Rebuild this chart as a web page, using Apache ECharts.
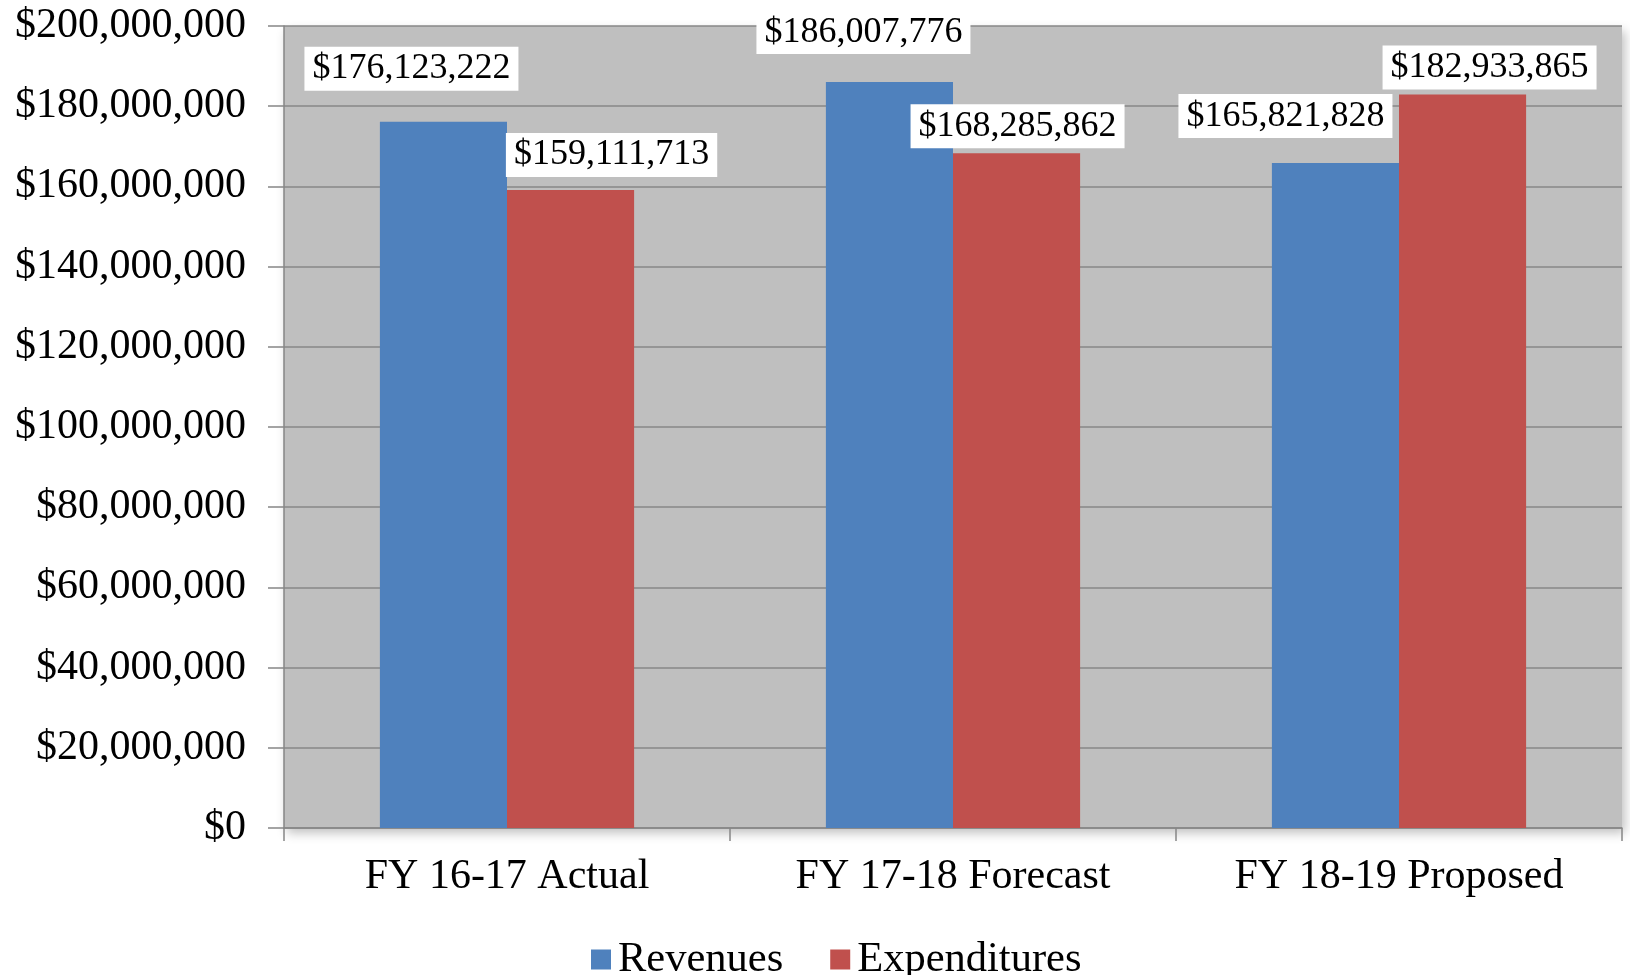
<!DOCTYPE html>
<html>
<head>
<meta charset="utf-8">
<script src="https://cdn.jsdelivr.net/npm/echarts@6/dist/echarts.min.js"></script>
<style>
  html, body { margin: 0; padding: 0; background: #fff; }
  #main { width: 1630px; height: 975px; }
</style>
</head>
<body>
<div id="main"></div>
<script>
// data
const categories = ['FY 16-17 Actual', 'FY 17-18 Forecast', 'FY 18-19 Proposed'];
const revenues = [176123222, 186007776, 165821828];
const expenditures = [159111713, 168285862, 182933865];
const yTicks = [0, 20000000, 40000000, 60000000, 80000000, 100000000, 120000000, 140000000, 160000000, 180000000, 200000000];

// label nudges, Excel moved them around to avoid overlaps
const revLabelShift = [[-32, -26], [-26, -23], [-50, -20]];
const expLabelShift = [[41, -8], [1, 0], [27, 0]];

const FONT = '"Liberation Serif", "Times New Roman", serif';

function money(v) {
  return '$' + Number(v).toLocaleString('en-US');
}

function withLabels(values, shifts) {
  return values.map((v, i) => ({ value: v, label: { offset: shifts[i] } }));
}

var myChart = echarts.init(document.getElementById('main'));

const barLabel = {
  show: true,
  position: 'top',
  distance: 5,
  formatter: p => money(p.value),
  color: '#000',
  fontFamily: FONT,
  fontSize: 36,
  lineHeight: 36,
  backgroundColor: '#fff',
  padding: [4, 8, 4, 8]
};

const option = {
  animation: false,
  textStyle: { fontFamily: FONT },
  grid: {
    left: 284,
    right: 8,
    top: 26,
    bottom: 147,
    show: true,
    backgroundColor: '#BFBFBF',
    borderWidth: 0,
    shadowColor: 'rgba(0,0,0,0.25)',
    shadowBlur: 10,
    shadowOffsetX: 3,
    shadowOffsetY: 5
  },
  legend: {
    data: ['Revenues', 'Expenditures'],
    left: 586,
    top: 933,
    icon: 'rect',
    itemWidth: 20,
    itemHeight: 20,
    itemGap: 47,
    textStyle: {
      fontFamily: FONT,
      fontSize: 42.5,
      lineHeight: 42,
      color: '#000',
      padding: [0, 0, 0, 2]
    }
  },
  xAxis: {
    type: 'category',
    data: categories,
    axisLine: { lineStyle: { color: '#868686', width: 1.5 } },
    axisTick: { show: true, length: 13, lineStyle: { color: '#868686', width: 1.5 } },
    axisLabel: {
      color: '#000',
      fontFamily: FONT,
      fontSize: 42,
      lineHeight: 42,
      margin: 28
    }
  },
  yAxis: {
    type: 'value',
    min: yTicks[0],
    max: yTicks[yTicks.length - 1],
    interval: yTicks[1] - yTicks[0],
    axisLine: { show: true, lineStyle: { color: '#868686', width: 1.5 } },
    axisTick: { show: true, length: 16, lineStyle: { color: '#868686', width: 1.5 } },
    splitLine: { lineStyle: { color: '#878787', width: 1.5 } },
    axisLabel: {
      color: '#000',
      fontFamily: FONT,
      fontSize: 42,
      margin: 38,
      formatter: v => money(v)
    }
  },
  series: [
    {
      name: 'Revenues',
      type: 'bar',
      data: withLabels(revenues, revLabelShift),
      itemStyle: { color: '#4F81BD' },
      barGap: '0%',
      barCategoryGap: '43%',
      label: barLabel
    },
    {
      name: 'Expenditures',
      type: 'bar',
      data: withLabels(expenditures, expLabelShift),
      itemStyle: { color: '#C0504D' },
      barGap: '0%',
      barCategoryGap: '43%',
      label: barLabel
    }
  ]
};
myChart.setOption(option);
</script>
</body>
</html>
